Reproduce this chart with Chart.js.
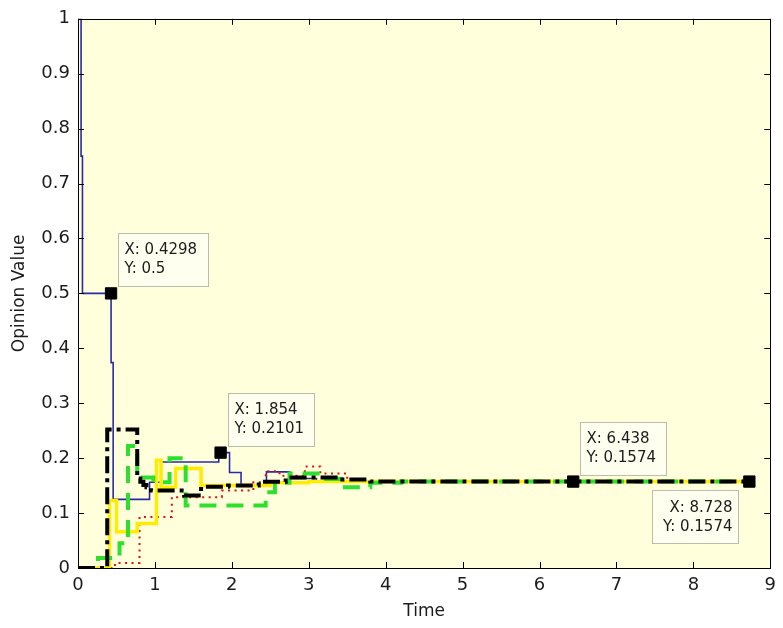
<!DOCTYPE html>
<html>
<head>
<meta charset="utf-8">
<title>Opinion Value over Time</title>
<script src="https://cdn.jsdelivr.net/npm/chart.js@4.4.0/dist/chart.umd.min.js"></script>
<style>
  html, body { margin: 0; padding: 0; background: #ffffff; }
  #wrap { width: 783px; height: 628px; }
</style>
</head>
<body>
<div id="wrap"><canvas id="opinionChart" width="783" height="628"></canvas></div>
<script>
// opinion trajectories of the five agents (step functions: value holds from t[i] to t[i+1])
const blueT = [0, 0.04, 0.058, 0.43, 0.457, 0.93, 1.08, 1.83, 1.97, 2.12, 2.45, 2.75, 3.1, 8.728];
const blueV = [1, 0.75, 0.5, 0.374, 0.125, 0.156, 0.193, 0.2101, 0.174, 0.15, 0.175, 0.163, 0.1574, 0.1574];

const blackT = [0, 0.38, 0.77, 0.81, 0.85, 0.89, 0.95, 1.38, 1.6, 1.95, 2.35, 2.7, 3.4, 3.8, 8.728];
const blackV = [0, 0.252, 0.163, 0.157, 0.151, 0.147, 0.141, 0.132, 0.148, 0.15, 0.157, 0.165, 0.161, 0.1574, 0.1574];

const greenT = [0, 0.26, 0.54, 0.65, 0.77, 0.98, 1.19, 1.4, 2.44, 2.56, 2.75, 3.15, 3.42, 3.8, 4.2, 8.728];
const greenV = [0, 0.018, 0.045, 0.222, 0.165, 0.156, 0.2, 0.114, 0.138, 0.155, 0.172, 0.162, 0.147, 0.155, 0.1574, 0.1574];

const yellowT = [0, 0.41, 0.5, 0.77, 1.02, 1.08, 1.27, 1.6, 2.5, 3.0, 8.728];
const yellowV = [0, 0.123, 0.066, 0.081, 0.196, 0.147, 0.181, 0.15, 0.155, 0.1574, 0.1574];

const redT = [0, 0.48, 0.8, 1.22, 1.87, 2.28, 2.44, 2.62, 2.95, 3.15, 3.5, 8.728];
const redV = [0, 0.009, 0.093, 0.129, 0.141, 0.156, 0.176, 0.168, 0.185, 0.172, 0.1574, 0.1574];

// data tips
const tipX = [0.4298, 1.854, 6.438, 8.728];
const tipY = [0.5, 0.2101, 0.1574, 0.1574];
const tipSide = ['ne', 'ne', 'ne', 'sw'];

const FONT = '"DejaVu Sans", Verdana, sans-serif';
const TEXT = '#1c1c1c';

function toPoints(ts, vs) {
  return ts.map((t, i) => ({ x: t, y: vs[i] }));
}

function stepLine(ts, vs, color, width, dash) {
  return {
    data: toPoints(ts, vs),
    borderColor: color,
    borderWidth: width,
    borderDash: dash,
    stepped: true,
    pointRadius: 0,
    fill: false
  };
}

// yellow plot background
const areaBackground = {
  id: 'areaBackground',
  beforeDatasetsDraw(chart) {
    const { ctx, chartArea: a } = chart;
    ctx.save();
    ctx.fillStyle = '#ffffdc';
    ctx.fillRect(a.left, a.top, a.right - a.left, a.bottom - a.top);
    ctx.restore();
  }
};

// box around the axes with inward tick marks on all four sides
const axesBox = {
  id: 'axesBox',
  afterDatasetsDraw(chart) {
    const { ctx, chartArea: a, scales } = chart;
    const len = 6;
    ctx.save();
    ctx.strokeStyle = '#000';
    ctx.lineWidth = 1;
    ctx.beginPath();
    scales.x.ticks.forEach(t => {
      const px = Math.round(scales.x.getPixelForValue(t.value)) + 0.5;
      ctx.moveTo(px, a.bottom); ctx.lineTo(px, a.bottom - len);
      ctx.moveTo(px, a.top); ctx.lineTo(px, a.top + len);
    });
    scales.y.ticks.forEach(t => {
      const py = Math.round(scales.y.getPixelForValue(t.value)) + 0.5;
      ctx.moveTo(a.left, py); ctx.lineTo(a.left + len, py);
      ctx.moveTo(a.right, py); ctx.lineTo(a.right - len, py);
    });
    ctx.stroke();
    ctx.strokeRect(Math.round(a.left) + 0.5, Math.round(a.top) + 0.5,
      Math.round(a.right - a.left), Math.round(a.bottom - a.top));
    ctx.restore();
  }
};

// text boxes next to the marked points
const dataTips = {
  id: 'dataTips',
  afterDraw(chart) {
    const { ctx, scales } = chart;
    ctx.save();
    ctx.font = `15px ${FONT}`;
    tipX.forEach((xv, i) => {
      const px = scales.x.getPixelForValue(xv);
      const py = scales.y.getPixelForValue(tipY[i]);
      const lines = [`X: ${xv}`, `Y: ${tipY[i]}`];
      const w = Math.round(Math.max(...lines.map(l => ctx.measureText(l).width)) + 17);
      const h = 53;
      let left, top;
      if (tipSide[i] === 'sw') {
        left = px - 11 - w;
        top = py + 8;
      } else {
        left = px + 7;
        top = py - 7 - h;
      }
      left = Math.round(left) + 0.5;
      top = Math.round(top) + 0.5;
      ctx.fillStyle = '#fffff0';
      ctx.fillRect(left, top, w, h);
      ctx.strokeStyle = '#bcbcae';
      ctx.lineWidth = 1;
      ctx.strokeRect(left, top, w, h);
      ctx.fillStyle = TEXT;
      ctx.textBaseline = 'middle';
      if (tipSide[i] === 'sw') {
        ctx.textAlign = 'right';
        lines.forEach((l, k) => ctx.fillText(l, left + w - 6, top + 18 + k * 19));
      } else {
        ctx.textAlign = 'left';
        lines.forEach((l, k) => ctx.fillText(l, left + 6, top + 17 + k * 19));
      }
    });
    ctx.restore();
  }
};

const ctx = document.getElementById('opinionChart').getContext('2d');

new Chart(ctx, {
  type: 'line',
  data: {
    datasets: [
      {
        type: 'scatter',
        data: toPoints(tipX, tipY),
        pointStyle: 'rect',
        pointRadius: 8,
        pointBackgroundColor: '#000',
        pointBorderColor: '#000',
        showLine: false
      },
      stepLine(blackT, blackV, '#000000', 4, [17, 5, 4, 5]),
      stepLine(greenT, greenV, '#2ee02e', 4, [17, 10]),
      stepLine(yellowT, yellowV, '#ffec00', 3.5, []),
      stepLine(redT, redV, '#dd1010', 2, [2, 4.5]),
      stepLine(blueT, blueV, '#2a2aa6', 1.6, [])
    ]
  },
  options: {
    responsive: false,
    animation: false,
    devicePixelRatio: 1,
    layout: { padding: { top: 16, right: 8, left: 0, bottom: 0 } },
    plugins: {
      legend: { display: false },
      tooltip: { enabled: false }
    },
    scales: {
      x: {
        type: 'linear',
        min: 0,
        max: 9,
        ticks: {
          stepSize: 1,
          padding: 7,
          color: TEXT,
          font: { family: FONT, size: 18 }
        },
        grid: { display: false, drawTicks: false },
        border: { display: false },
        title: {
          display: true,
          text: 'Time',
          color: TEXT,
          font: { family: FONT, size: 17 },
          padding: { bottom: 6 }
        },
        afterFit(scale) { scale.height = 60; }
      },
      y: {
        min: 0,
        max: 1,
        ticks: {
          stepSize: 0.1,
          padding: 8,
          color: TEXT,
          font: { family: FONT, size: 18 },
          callback: v => String(+v.toFixed(1))
        },
        grid: { display: false, drawTicks: false },
        border: { display: false },
        title: {
          display: true,
          text: 'Opinion Value',
          color: TEXT,
          font: { family: FONT, size: 17 },
          padding: { top: 9 }
        },
        afterFit(scale) { scale.width = 78; }
      }
    }
  },
  plugins: [areaBackground, axesBox, dataTips]
});
</script>
</body>
</html>
